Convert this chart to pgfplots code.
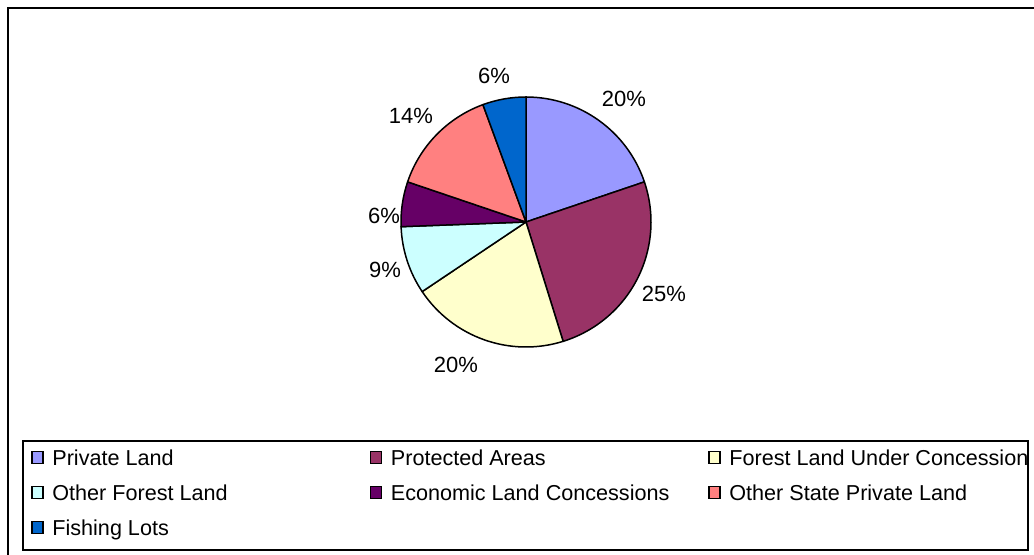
\documentclass[border=0pt]{standalone}
\usepackage{pgfplots}
\pgfplotsset{compat=1.18}
\usepackage{pgfplotstable}
\usepackage{fontspec}
\setmainfont{Liberation Sans}
\definecolor{cPriv}{HTML}{9999FF}
\definecolor{cProt}{HTML}{993366}
\definecolor{cFLUC}{HTML}{FFFFCC}
\definecolor{cOFL}{HTML}{CCFFFF}
\definecolor{cELC}{HTML}{660066}
\definecolor{cOSPL}{HTML}{FF8080}
\definecolor{cFish}{HTML}{0066CC}
% value = share in percent; lx,ly = label offset from pie centre (px); col,row = legend cell
\pgfplotstableread[col sep=comma]{
name,value,color,lx,ly,col,row
Private Land,19.8,cPriv,98,123,0,0
Protected Areas,25.4,cProt,138,-71.5,1,0
Forest Land Under Concession,20.4,cFLUC,-70,-143,2,0
Other Forest Land,8.8,cOFL,-141,-48,0,1
Economic Land Concessions,5.8,cELC,-142,6,1,1
Other State Private Land,14.2,cOSPL,-115,106,2,1
Fishing Lots,5.6,cFish,-32,146,0,2
}\piedata
\tikzset{pielabel/.style={font=\fontsize{11}{13}\selectfont, inner sep=0pt},
         legtext/.style={font=\fontsize{10.8}{13}\selectfont, inner sep=0pt, anchor=base west}}
\begin{document}
\begin{tikzpicture}
\clip (0,0) rectangle (517pt,277.5pt);
\begin{axis}[x=0.5pt,y=0.5pt,xmin=0,xmax=1034,ymin=0,ymax=555,
  hide axis, clip=false, anchor=south west, at={(0,0)}]
\draw[line width=1pt] (axis cs:8,-10) -- (axis cs:8,547) -- (axis cs:1045,547);
\draw[black, line width=0.6pt] (axis cs:23,5) rectangle (axis cs:1028,114);
\pgfplotstablegetrowsof{\piedata}
\pgfmathtruncatemacro{\lastrow}{\pgfplotsretval-1}
\gdef\cum{90}
\pgfplotsforeachungrouped \i in {0,...,\lastrow}{%
  \pgfplotstablegetelem{\i}{value}\of\piedata \let\val\pgfplotsretval
  \pgfplotstablegetelem{\i}{color}\of\piedata \let\clr\pgfplotsretval
  \pgfplotstablegetelem{\i}{lx}\of\piedata \let\lx\pgfplotsretval
  \pgfplotstablegetelem{\i}{ly}\of\piedata \let\ly\pgfplotsretval
  \pgfplotstablegetelem{\i}{name}\of\piedata \let\nm\pgfplotsretval
  \pgfplotstablegetelem{\i}{col}\of\piedata \let\cc\pgfplotsretval
  \pgfplotstablegetelem{\i}{row}\of\piedata \let\rr\pgfplotsretval
  \pgfmathsetmacro{\a}{\cum}%
  \pgfmathsetmacro{\b}{\cum-3.6*\val}%
  \pgfmathsetmacro{\sx}{526+125*cos(\a)}%
  \pgfmathsetmacro{\sy}{333+125*sin(\a)}%
  \pgfmathtruncatemacro{\pct}{round(\val)}%
  \pgfmathsetmacro{\tx}{526+\lx}%
  \pgfmathsetmacro{\ty}{333+\ly}%
  \pgfmathsetmacro{\mx}{32+338.5*\cc}%
  \pgfmathsetmacro{\mxr}{\mx+11}%
  \pgfmathsetmacro{\mtx}{\mx+20}%
  \pgfmathsetmacro{\my}{97.3-35*\rr}%
  \pgfmathsetmacro{\mya}{\my-6}%
  \pgfmathsetmacro{\myb}{\my+6}%
  \pgfmathsetmacro{\myt}{\my-7.8}%
  \edef\temp{%
    \noexpand\filldraw[fill=\clr,draw=black,line width=0.75pt,line join=round]
      (axis cs:526,333) -- (axis cs:\sx,\sy) arc[start angle=\a,end angle=\b,radius=62.5pt] -- cycle;
    \noexpand\node[pielabel] at (axis cs:\tx,\ty) {\pct\noexpand\%};
    \noexpand\filldraw[fill=\clr,draw=black,line width=0.6pt] (axis cs:\mx,\mya) rectangle (axis cs:\mxr,\myb);
    \noexpand\node[legtext] at (axis cs:\mtx,\myt) {\nm};
  }\temp
  \global\let\cum\b
}
\end{axis}
\end{tikzpicture}
\end{document}
